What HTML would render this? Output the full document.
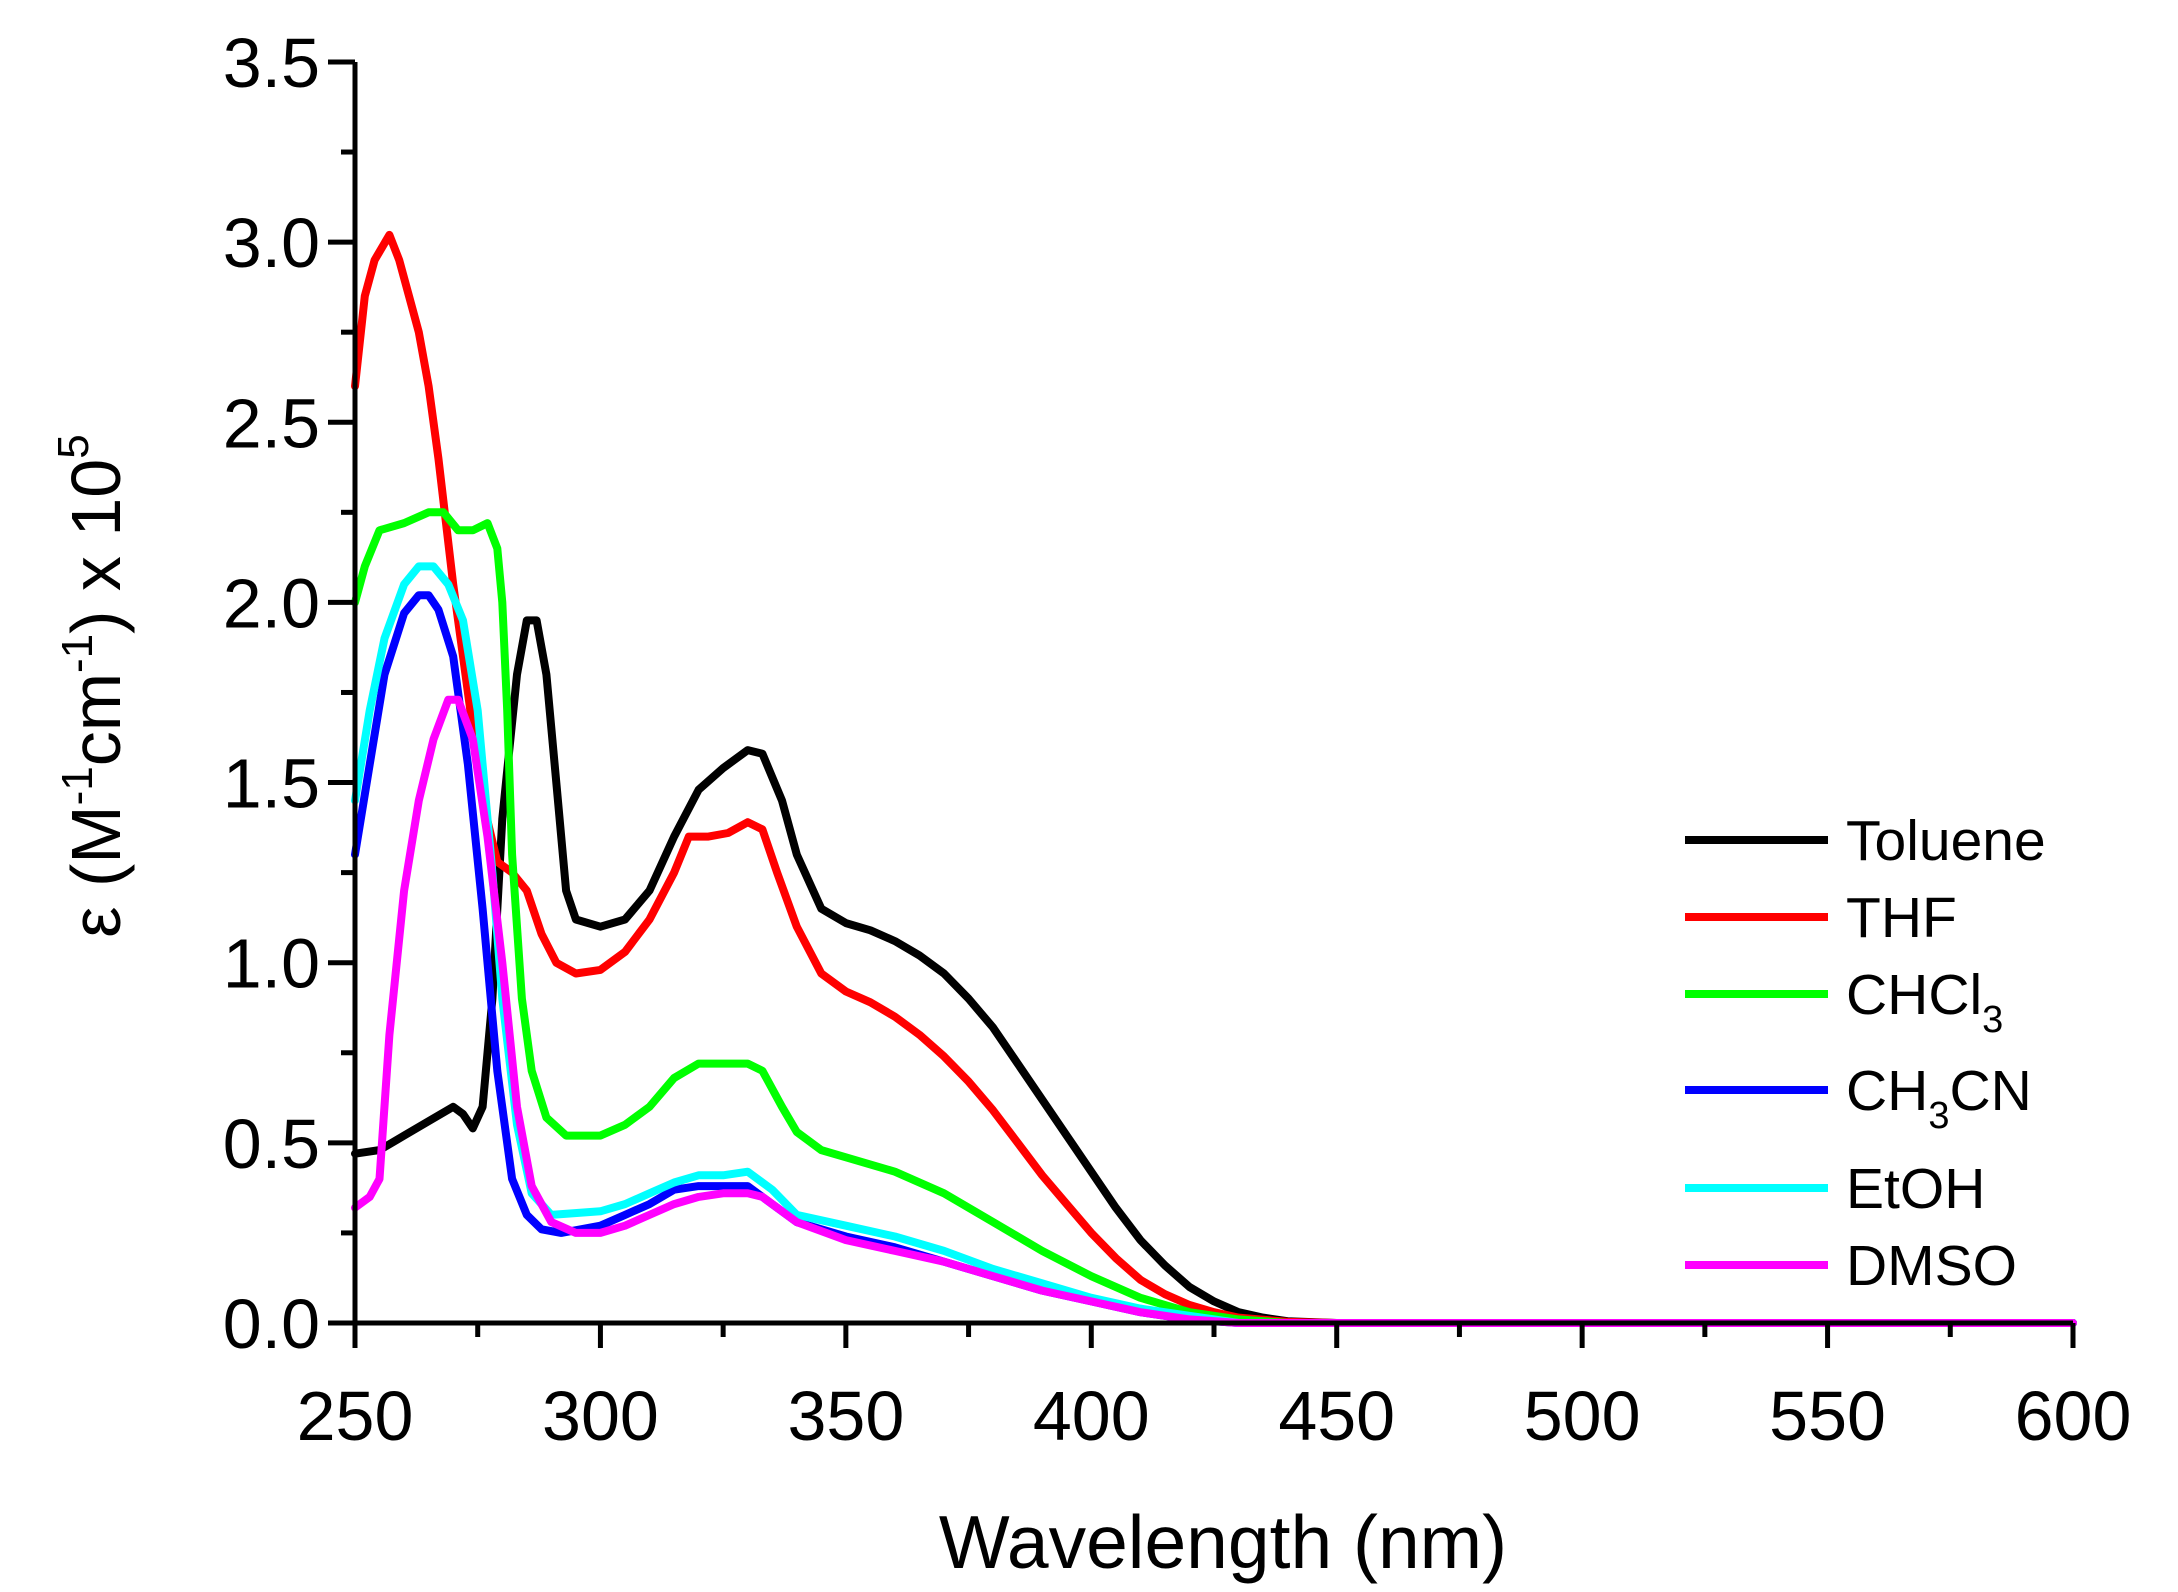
<!DOCTYPE html>
<html><head><meta charset="utf-8"><style>
html,body{margin:0;padding:0;background:#fff}
svg{display:block}
text{font-family:"Liberation Sans",Arial,sans-serif;fill:#000}
</style></head><body>
<svg id="s" width="2178" height="1592" viewBox="0 0 2178 1592" xmlns="http://www.w3.org/2000/svg">
<g id="curves" fill="none" stroke-width="8" stroke-linejoin="round" stroke-linecap="round"></g>
<g id="axes" stroke="#000" stroke-width="5" fill="none"></g>
<g id="labels" font-size="70"></g>
<text x="1223" y="1568" font-size="75" text-anchor="middle">Wavelength (nm)</text>
<text transform="translate(120,686) rotate(-90)" font-size="70" text-anchor="middle">ε (M<tspan dy="-28" font-size="44">-1</tspan><tspan dy="28">cm</tspan><tspan dy="-28" font-size="44">-1</tspan><tspan dy="28">) x 10</tspan><tspan dy="-32" font-size="44">5</tspan></text>
<g id="legend" font-size="57"></g>
</svg>
<script>
var X=function(n){return 355+(n-250)*1718/350};
var Y=function(v){return 1323-v*360.3};
var D={
"#000":[[250,.47],[255,.48],[260,.52],[265,.56],[270,.6],[272,.58],[274,.54],[276,.6],[278,.9],[280,1.4],[283,1.8],[285,1.95],[287,1.95],[289,1.8],[291,1.5],[293,1.2],[295,1.12],[300,1.1],[305,1.12],[310,1.2],[315,1.35],[320,1.48],[325,1.54],[330,1.59],[333,1.58],[337,1.45],[340,1.3],[345,1.15],[350,1.11],[355,1.09],[360,1.06],[365,1.02],[370,.97],[375,.9],[380,.82],[385,.72],[390,.62],[395,.52],[400,.42],[405,.32],[410,.23],[415,.16],[420,.1],[425,.06],[430,.03],[435,.015],[440,.005],[450,0],[600,0]],
"#f00":[[250,2.6],[252,2.85],[254,2.95],[257,3.02],[259,2.95],[261,2.85],[263,2.75],[265,2.6],[267,2.4],[270,2.05],[273,1.75],[276,1.45],[279,1.28],[282,1.25],[285,1.2],[288,1.08],[291,1],[295,.97],[300,.98],[305,1.03],[310,1.12],[315,1.25],[318,1.35],[322,1.35],[326,1.36],[330,1.39],[333,1.37],[336,1.25],[340,1.1],[345,.97],[350,.92],[355,.89],[360,.85],[365,.8],[370,.74],[375,.67],[380,.59],[385,.5],[390,.41],[395,.33],[400,.25],[405,.18],[410,.12],[415,.08],[420,.05],[425,.03],[430,.015],[440,.003],[450,0],[600,0]],
"#0f0":[[250,2],[252,2.1],[255,2.2],[260,2.22],[265,2.25],[268,2.25],[271,2.2],[274,2.2],[277,2.22],[279,2.15],[280,2],[281,1.7],[282,1.3],[284,.9],[286,.7],[289,.57],[293,.52],[300,.52],[305,.55],[310,.6],[315,.68],[320,.72],[325,.72],[330,.72],[333,.7],[337,.6],[340,.53],[345,.48],[350,.46],[360,.42],[370,.36],[380,.28],[390,.2],[400,.13],[410,.07],[420,.03],[430,.01],[440,0],[600,0]],
"#00f":[[250,1.3],[253,1.55],[256,1.8],[260,1.97],[263,2.02],[265,2.02],[267,1.98],[270,1.85],[273,1.55],[276,1.15],[279,.7],[282,.4],[285,.3],[288,.26],[292,.25],[300,.27],[305,.3],[310,.33],[315,.37],[320,.38],[325,.38],[330,.38],[335,.33],[340,.28],[350,.24],[360,.21],[370,.17],[380,.13],[390,.09],[400,.06],[410,.03],[420,.01],[430,0],[600,0]],
"#0ff":[[250,1.45],[253,1.7],[256,1.9],[260,2.05],[263,2.1],[266,2.1],[269,2.05],[272,1.95],[275,1.7],[278,1.25],[280,.9],[283,.55],[286,.36],[290,.3],[300,.31],[305,.33],[310,.36],[315,.39],[320,.41],[325,.41],[330,.42],[335,.37],[340,.3],[350,.27],[360,.24],[370,.2],[380,.15],[390,.11],[400,.07],[410,.04],[420,.02],[430,0],[600,0]],
"#f0f":[[250,.32],[253,.35],[255,.4],[257,.8],[260,1.2],[263,1.45],[266,1.62],[269,1.73],[271,1.73],[274,1.62],[277,1.35],[280,1],[283,.6],[286,.38],[290,.28],[295,.25],[300,.25],[305,.27],[310,.3],[315,.33],[320,.35],[325,.36],[330,.36],[333,.35],[340,.28],[350,.23],[360,.2],[370,.17],[380,.13],[390,.09],[400,.06],[410,.03],[420,.01],[430,0],[600,0]]};
var ns="http://www.w3.org/2000/svg";
function el(p,t,a,txt){var e=document.createElementNS(ns,t);for(var k in a)e.setAttribute(k,a[k]);if(txt!=null)e.textContent=txt;document.getElementById(p).appendChild(e);return e;}
for(var c in D){var d=D[c].map(function(p,i){return (i?"L":"M")+X(p[0]).toFixed(1)+" "+Y(p[1]).toFixed(1)}).join("");el("curves","path",{d:d,stroke:c});}
el("axes","path",{d:"M355 62V1323H2073"});
for(var n=250;n<=600;n+=25){var x=X(n);el("axes","line",{x1:x,y1:1323,x2:x,y2:n%50?1337:1348});if(n%50==0)el("labels","text",{x:x,y:1440,"text-anchor":"middle"},n);}
for(var v=0;v<=3.501;v+=0.25){var y=Y(v);var maj=Math.abs(v*2-Math.round(v*2))<.01;el("axes","line",{x1:355,y1:y,x2:maj?328:341,y2:y});if(maj)el("labels","text",{x:320,y:y+25,"text-anchor":"end"},v.toFixed(1));}
var L=[["#000","Toluene",840],["#f00","THF",917],["#0f0","CHCl",994,"3"],["#00f","CH",1090,"3","CN"],["#0ff","EtOH",1188],["#f0f","DMSO",1265]];
L.forEach(function(l){el("legend","line",{x1:1685,x2:1828,y1:l[2],y2:l[2],stroke:l[0],"stroke-width":8});var t=el("legend","text",{x:1846,y:l[2]+20},l[1]);if(l[3]){var s=document.createElementNS(ns,"tspan");s.setAttribute("dy","18");s.setAttribute("font-size","38");s.textContent=l[3];t.appendChild(s);}if(l[4]){var s2=document.createElementNS(ns,"tspan");s2.setAttribute("dy","-18");s2.textContent=l[4];t.appendChild(s2);}});
</script>
</body></html>
